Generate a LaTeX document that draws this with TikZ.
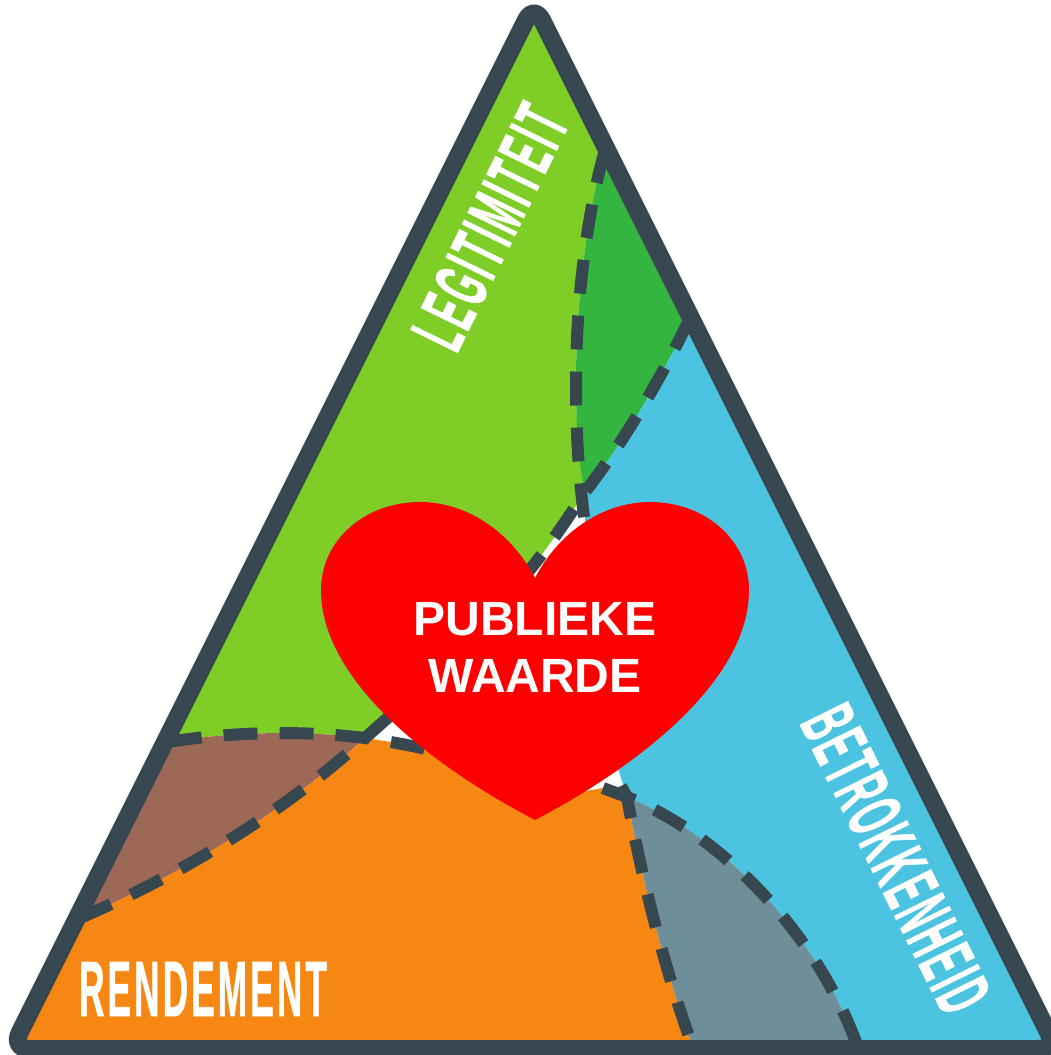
\documentclass[tikz,border=0pt]{standalone}
\usepackage{graphicx}
\usepackage{fontspec}
\setmainfont{Liberation Sans}
\definecolor{cframe}{HTML}{37474F}
\definecolor{cgreen}{HTML}{7FCE28}
\definecolor{cdgreen}{HTML}{33B540}
\definecolor{cblue}{HTML}{4CC4E1}
\definecolor{corange}{HTML}{F68712}
\definecolor{cbrown}{HTML}{9D6856}
\definecolor{cgray}{HTML}{6E8F9A}
\definecolor{cheart}{HTML}{FF0000}
\tikzset{
  frame/.style={draw=cframe,line width=18pt,line join=round,rounded corners=18pt},
  dashline/.style={draw=cframe,line width=12pt,dash pattern=on 34pt off 22pt},
  bigtext/.style={text=white,inner sep=0pt,font=\bfseries},
  hearttext/.style={text=white,inner sep=0pt,align=center,font=\fontsize{48}{57}\selectfont\bfseries}
}
\newcommand{\spaced}[1]{\addfontfeature{LetterSpace=9,FakeBold=1.2}#1}
\def\curveA{(605,150) .. controls (585,220) and (576,310) .. (576,380) .. controls (576,430) and (578,470) .. (585,525)}
\def\curveB{(690,318) .. controls (660,380) and (625,440) .. (585,492) .. controls (570,515) and (550,545) .. (528,572)}
\begin{document}
\begin{tikzpicture}[x=1pt,y=-1pt]
\useasboundingbox (0,0) rectangle (1050,1055);
% regions
\fill[cgreen] (534,15) -- (168,742) .. controls (230,732) and (300,730) .. (365,738) -- (392,714) -- (500,620) -- (528,572)
  .. controls (550,545) and (570,515) .. (585,492) .. controls (578,450) and (576,420) .. (576,380) .. controls (576,310) and (585,220) .. (605,150) -- cycle;
\fill[cdgreen] (605,150) .. controls (585,220) and (576,310) .. (576,380) .. controls (576,430) and (578,460) .. (585,492)
  .. controls (625,440) and (660,380) .. (690,318) -- cycle;
\fill[cblue] (690,318) .. controls (660,380) and (625,440) .. (585,492) -- (585,525) -- (600,600) -- (617,765) -- (627,797)
  .. controls (715,832) and (812,925) .. (856,1042) -- (1050,1047) -- cycle;
\fill[cbrown] (168,742) .. controls (230,732) and (300,730) .. (365,738) .. controls (280,815) and (180,875) .. (80,918) -- cycle;
\fill[corange] (20,1047) -- (80,918) .. controls (180,875) and (280,815) .. (365,738) .. controls (385,741) and (405,744) .. (430,750)
  -- (535,800) -- (603,788) -- (627,797) .. controls (642,880) and (665,970) .. (691,1042) -- (691,1047) -- cycle;
\fill[cgray] (627,797) .. controls (715,832) and (812,925) .. (856,1042) -- (856,1047) -- (691,1047) -- (691,1042) .. controls (665,970) and (642,880) .. (627,797) -- cycle;
% dashed boundaries
\draw[dashline] \curveA;
\draw[dashline] \curveB;
\draw[dashline] (168,742) .. controls (230,732) and (300,730) .. (365,738) .. controls (385,741) and (405,744) .. (430,750);
\draw[dashline] (80,918) .. controls (180,875) and (280,815) .. (365,738) -- (392,714);
\draw[dashline] (603,788) -- (627,797) .. controls (715,832) and (812,925) .. (856,1042);
\draw[dashline] (621,786) -- (627,797) .. controls (642,880) and (665,970) .. (691,1042);
% frame
\draw[frame] (534,4) -- (1056.5,1049) -- (11.5,1049) -- cycle;
% heart
\fill[cheart] (535,578) .. controls (510,530) and (465,502) .. (420,502) .. controls (365,502) and (321,540) .. (321,590)
  .. controls (321,680) and (430,765) .. (535,820) .. controls (640,765) and (749,680) .. (749,590)
  .. controls (749,540) and (705,502) .. (650,502) .. controls (605,502) and (560,530) .. (535,578) -- cycle;
% labels
\node[hearttext] (pw) at (535,647) {PUBLIEKE\\WAARDE};
\node[bigtext] (rend) at (203,989) {\resizebox{248pt}{54pt}{\spaced{RENDEMENT}}};
\node[bigtext,rotate=63.9] (legit) at (490,227) {\resizebox{259pt}{53pt}{\spaced{LEGITIMITEIT}}};
\node[bigtext,rotate=-63.7] (betr) at (896,859) {\resizebox{330pt}{54pt}{\spaced{BETROKKENHEID}}};
\end{tikzpicture}
\end{document}
